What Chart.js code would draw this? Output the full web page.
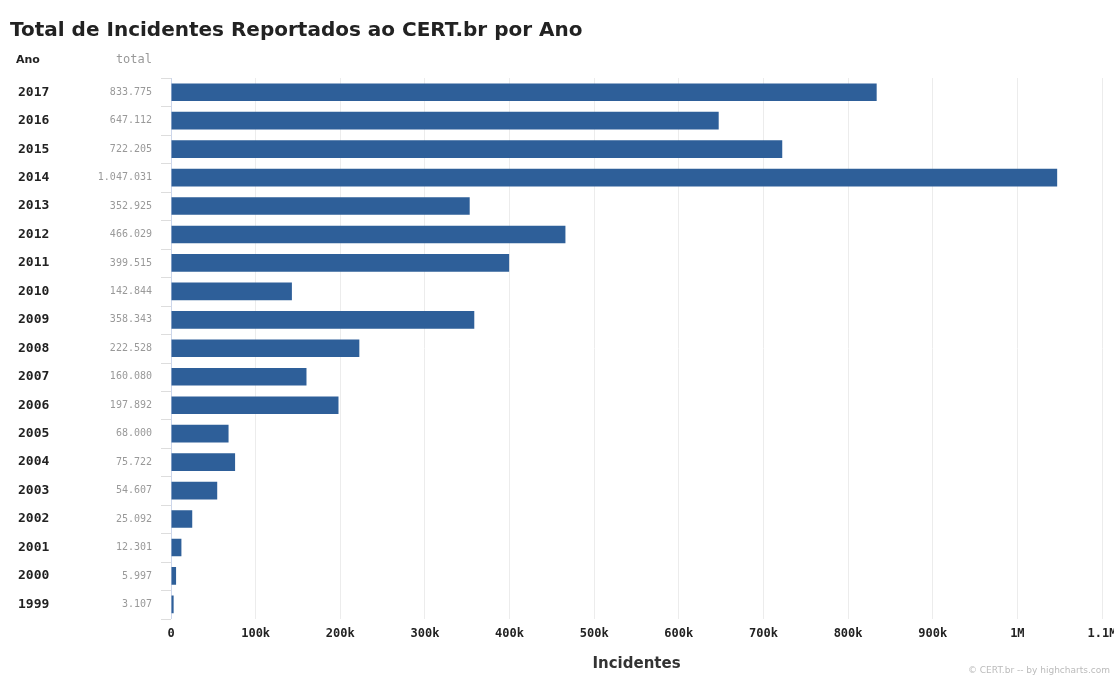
<!DOCTYPE html>
<html>
<head>
<meta charset="utf-8">
<script src="https://cdn.jsdelivr.net/npm/chart.js@4"></script>
<style>
body{margin:0;background:#fff;}
#wrap{width:1114px;height:676px;position:relative;}
</style>
</head>
<body>
<div id="wrap"><canvas id="chart" width="1114" height="676"></canvas></div>
<script>
let years = ["2017","2016","2015","2014","2013","2012","2011","2010","2009","2008","2007","2006","2005","2004","2003","2002","2001","2000","1999"];
let totals = [833775,647112,722205,1047031,352925,466029,399515,142844,358343,222528,160080,197892,68000,75722,54607,25092,12301,5997,3107];
let xTicks = [0,100000,200000,300000,400000,500000,600000,700000,800000,900000,1000000,1100000];

/* 1.047.031 */
function formatNum(n){
    return String(n).replace(/\B(?=(\d{3})+(?!\d))/g,".");
}

function formatTick(v){
    if(v>=1000000) return (v/1000000)+"M";
    if(v>=1000) return (v/1000)+"k";
    return v;
}

/* Year + total columns on the left */
const sideLabels = {
    id:"sideLabels",
    afterDraw(c){
        let ctx=c.ctx, y=c.scales.y;
        ctx.save();
        ctx.textBaseline="middle";
        ctx.font="bold 11px 'DejaVu Sans'";
        ctx.fillStyle="#222";
        ctx.textAlign="left";
        ctx.fillText("Ano",16,60);
        ctx.font="12px 'DejaVu Sans Mono'";
        ctx.fillStyle="#999";
        ctx.textAlign="right";
        ctx.fillText("total",152,60);
        years.forEach((yr,i)=>{
            let py=y.getPixelForValue(i);
            ctx.font="bold 13px 'DejaVu Sans Mono'";
            ctx.fillStyle="#222";
            ctx.textAlign="left";
            ctx.fillText(yr,18,py);
            ctx.font="10px 'DejaVu Sans Mono'";
            ctx.fillStyle="#999";
            ctx.textAlign="right";
            ctx.fillText(formatNum(totals[i]),152,py);
        });
        // small row separators next to the axis
        ctx.strokeStyle="#ddd";
        ctx.lineWidth=1;
        for(let i=0;i<=years.length;i++){
            let py=Math.round(y.getPixelForValue(i-0.5))+0.5;
            ctx.beginPath();
            ctx.moveTo(y.right-10,py);
            ctx.lineTo(y.right,py);
            ctx.stroke();
        }
        ctx.font="9px 'DejaVu Sans'";
        ctx.fillStyle="#bbb";
        ctx.textAlign="right";
        ctx.fillText("© CERT.br -- by highcharts.com",1110,671);
        ctx.restore();
    }
};

new Chart(document.getElementById("chart"),{
    type:"bar",
    data:{
        labels:years,
        datasets:[{
            data:totals,
            backgroundColor:"#2e5f99",
            borderWidth:0,
            barPercentage:0.62,
            categoryPercentage:1
        }]
    },
    options:{
        indexAxis:"y",
        responsive:false,
        animation:false,
        devicePixelRatio:1,
        layout:{padding:{left:10,right:12,top:0,bottom:0}},
        plugins:{
            legend:{display:false},
            tooltip:{enabled:false},
            title:{
                display:true,
                text:"Total de Incidentes Reportados ao CERT.br por Ano",
                align:"start",
                color:"#222",
                font:{family:"'DejaVu Sans'",size:20,weight:"bold"},
                padding:{top:19,bottom:35}
            }
        },
        scales:{
            x:{
                min:0,
                max:1100000,
                afterBuildTicks(s){ s.ticks=xTicks.map(v=>({value:v})); },
                afterFit(s){ s.paddingRight=0; },
                ticks:{
                    callback:v=>formatTick(v),
                    color:"#222",
                    font:{family:"'DejaVu Sans Mono'",size:12,weight:"bold"},
                    padding:8,
                    maxRotation:0
                },
                grid:{color:"#ececec",drawTicks:false},
                border:{display:false},
                title:{
                    display:true,
                    text:"Incidentes",
                    color:"#333",
                    font:{family:"'DejaVu Sans'",size:15,weight:"bold"},
                    padding:{top:6,bottom:3}
                }
            },
            y:{
                ticks:{display:false},
                grid:{display:false},
                border:{display:true,color:"#ccd6eb"},
                afterFit(s){ s.width=161; }
            }
        }
    },
    plugins:[sideLabels]
});
</script>
</body>
</html>
